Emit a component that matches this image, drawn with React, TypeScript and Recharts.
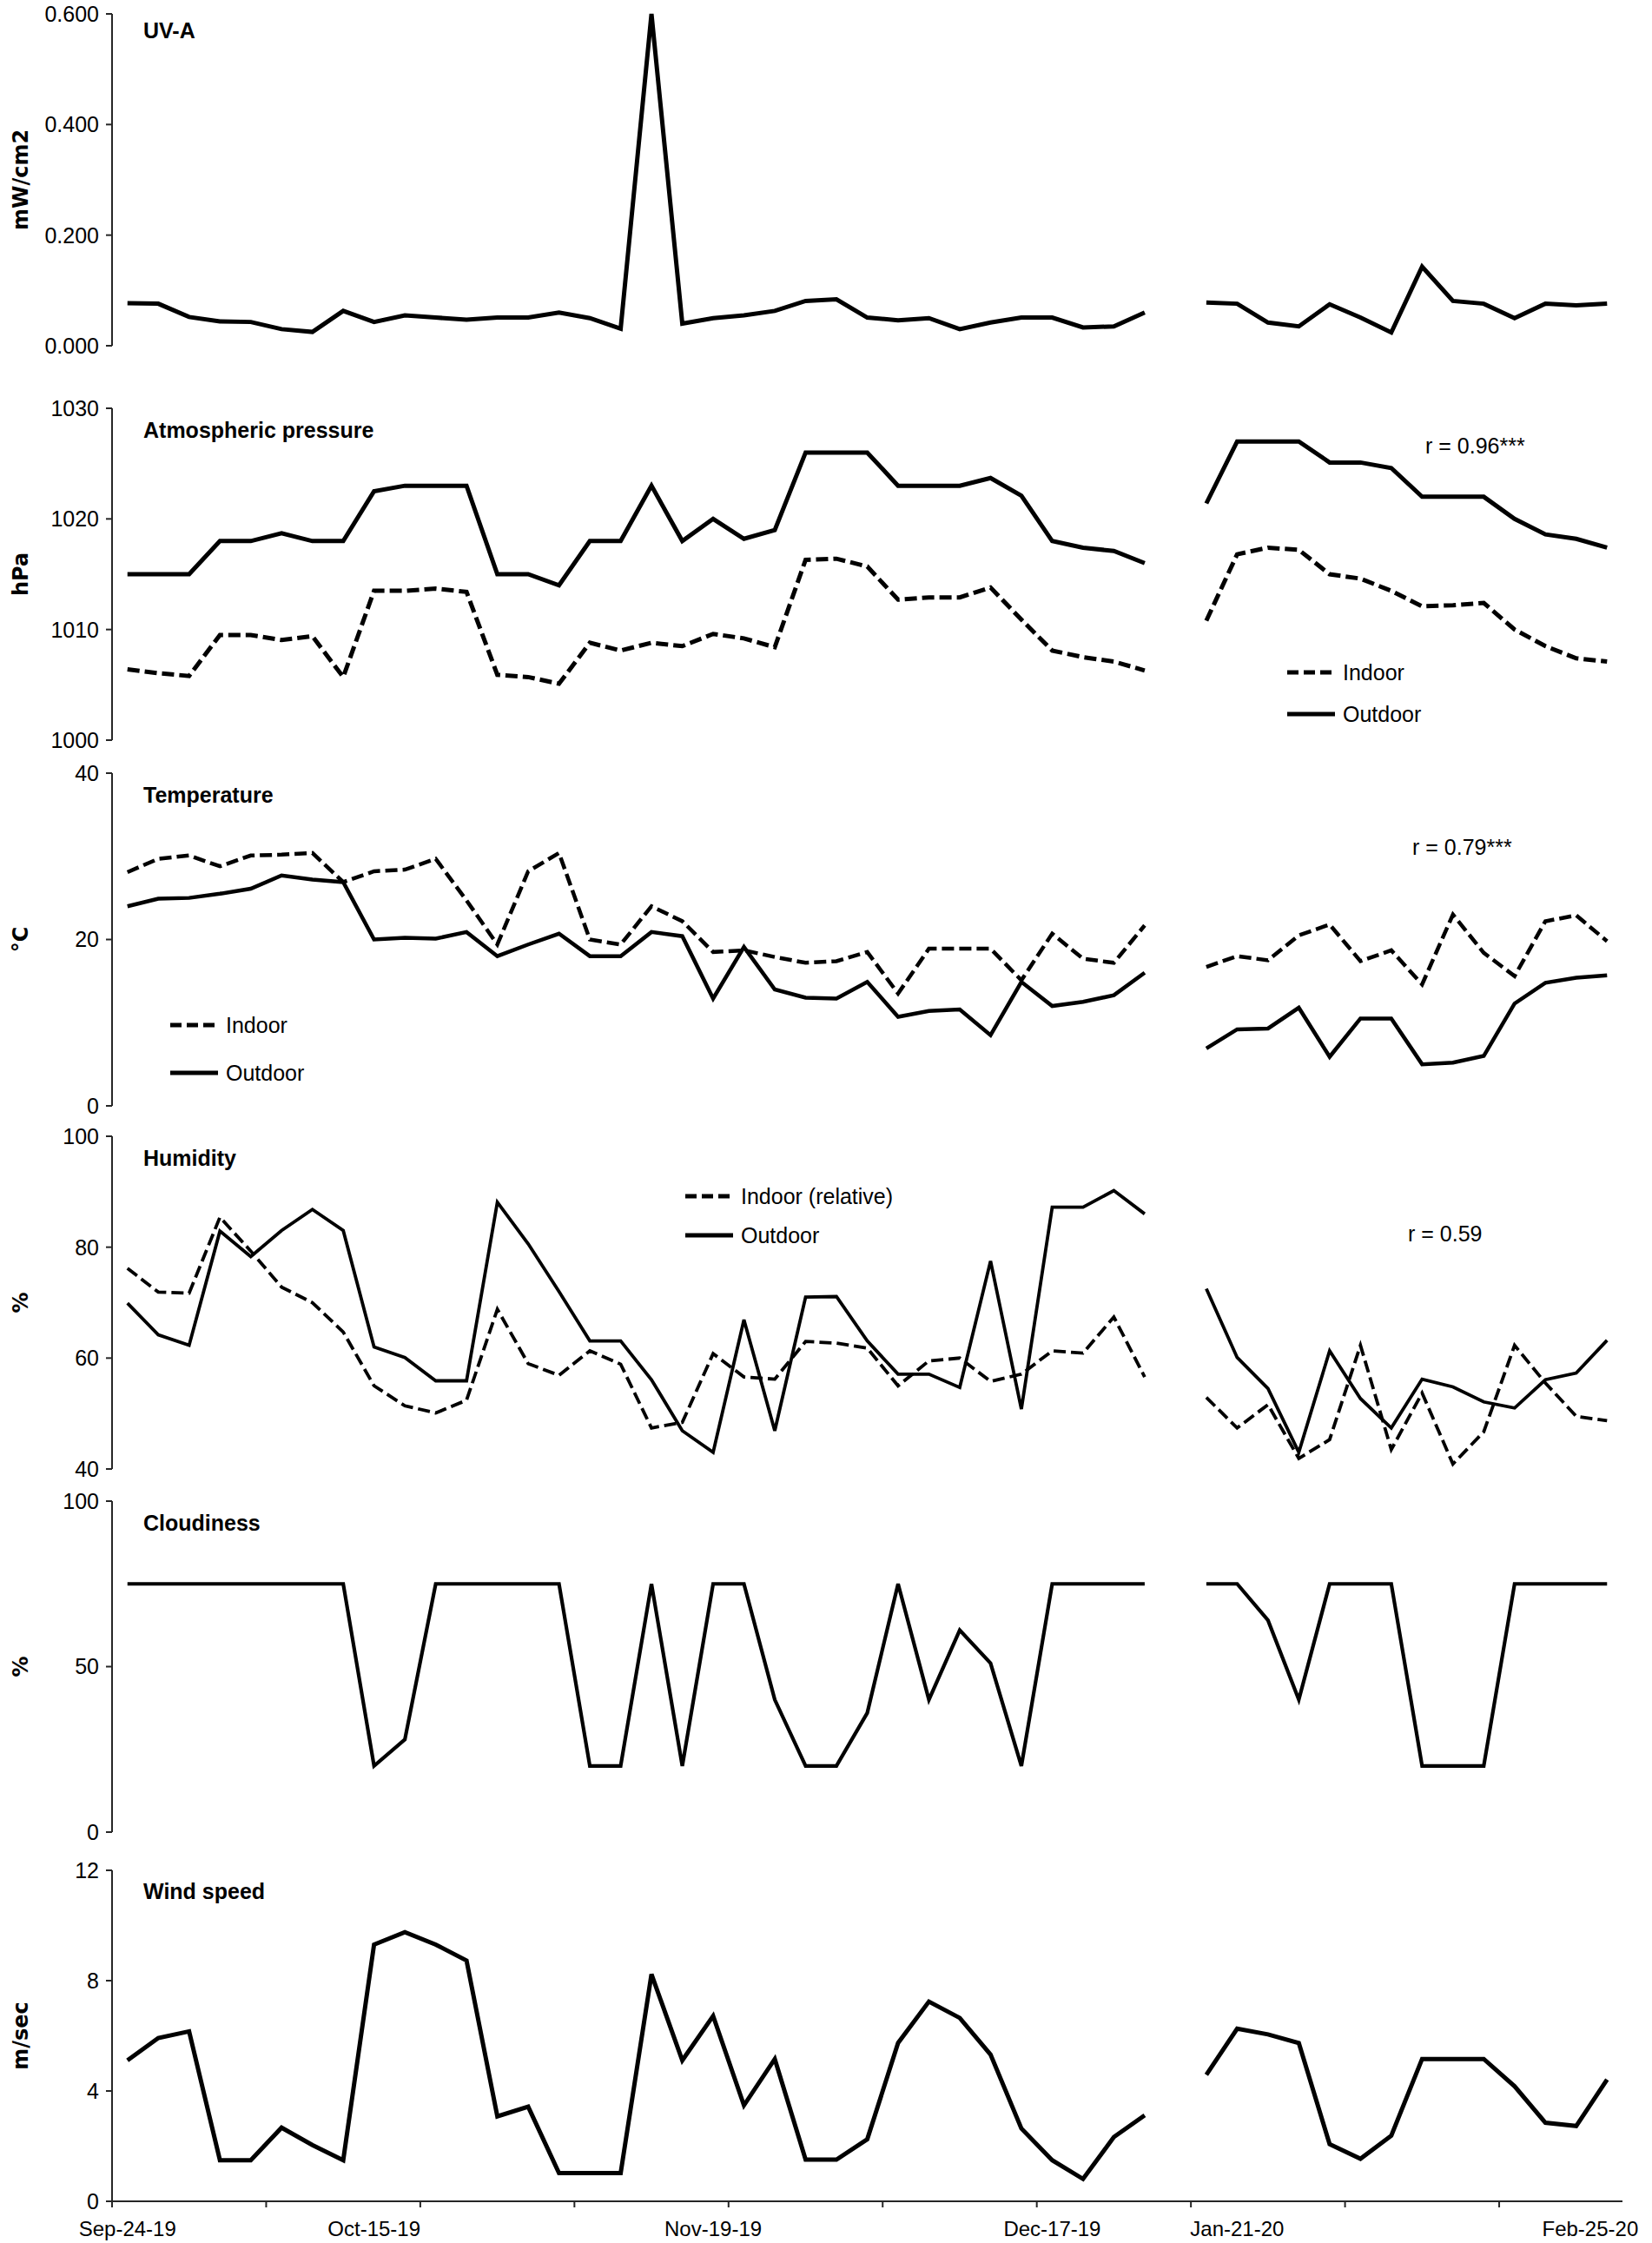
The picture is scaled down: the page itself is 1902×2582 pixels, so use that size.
import React from "react";
import { LineChart, Line, XAxis, YAxis } from "recharts";

const PAGE_W = 1902;
const PAGE_H = 2582;
const FONT = "'Liberation Sans', Arial, sans-serif";
const LABEL_FONT = "'DejaVu Sans', Verdana, sans-serif";
const AXIS = "#262626";
const INK = "#000";

// 49 category slots, slot 34 is empty (break between Dec and Jan series)
const slots = Array.from({ length: 49 }, (_, i) => i);

const tickMarkSlots = [0, 5, 10, 15, 20, 25, 30, 35, 40, 45];
const dateLabelSlots = [0, 8, 19, 30, 36, 48];
const dateLabels = ["Sep-24-19", "Oct-15-19", "Nov-19-19", "Dec-17-19", "Jan-21-20", "Feb-25-20"];

const uvA = [
  0.077, 0.076, 0.052, 0.044, 0.043, 0.03, 0.025, 0.063, 0.043, 0.055, 0.051, 0.047, 0.051, 0.051, 0.06, 0.05, 0.031,
  0.6, 0.04, 0.05, 0.055, 0.063, 0.081, 0.084, 0.051, 0.046, 0.05, 0.03, 0.042, 0.051, 0.051, 0.033, 0.035, 0.06, null,
  0.078, 0.076, 0.042, 0.035, 0.075, 0.051, 0.024, 0.143, 0.081, 0.076, 0.05, 0.076, 0.073, 0.076,
];

const pressureIndoor = [
  1006.4, 1006.05, 1005.8, 1009.5, 1009.5, 1009.05, 1009.4, 1005.7, 1013.5, 1013.5, 1013.7, 1013.4, 1005.9, 1005.7,
  1005.1, 1008.8, 1008.1, 1008.8, 1008.5, 1009.6, 1009.2, 1008.4, 1016.3, 1016.4, 1015.7, 1012.7, 1012.9, 1012.9,
  1013.8, 1010.9, 1008.1, 1007.5, 1007.1, 1006.3, null, 1010.8, 1016.8, 1017.4, 1017.2, 1015, 1014.6, 1013.5, 1012.1,
  1012.2, 1012.4, 1010, 1008.5, 1007.4, 1007.1,
];
const pressureOutdoor = [
  1015, 1015, 1015, 1018, 1018, 1018.7, 1018, 1018, 1022.5, 1023, 1023, 1023, 1015, 1015, 1014, 1018, 1018, 1023, 1018,
  1020, 1018.2, 1019, 1026, 1026, 1026, 1023, 1023, 1023, 1023.7, 1022.1, 1018, 1017.4, 1017.1, 1016, null, 1021.4,
  1027, 1027, 1027, 1025.1, 1025.1, 1024.6, 1022, 1022, 1022, 1020, 1018.6, 1018.2, 1017.4,
];

const tempIndoor = [
  28.1, 29.7, 30.1, 28.8, 30.1, 30.2, 30.4, 26.9, 28.2, 28.4, 29.7, 24.7, 19.4, 28.2, 30.4, 20.0, 19.4, 24.0, 22.2, 18.5,
  18.7, 17.9, 17.2, 17.4, 18.5, 13.5, 18.9, 18.9, 18.9, 15.1, 20.7, 17.7, 17.2, 21.7, null, 16.7, 18.0, 17.5, 20.5, 21.8,
  17.4, 18.7, 14.6, 23.0, 18.4, 15.6, 22.2, 22.9, 19.8,
];
const tempOutdoor = [
  24.0, 24.9, 25.0, 25.5, 26.1, 27.7, 27.2, 26.9, 20.0, 20.2, 20.1, 20.9, 18.0, 19.4, 20.7, 18.0, 18.0, 20.9, 20.4, 12.9,
  19.1, 14.0, 13.0, 12.9, 14.9, 10.7, 11.4, 11.6, 8.5, 14.9, 12.0, 12.5, 13.3, 16.0, null, 6.9, 9.2, 9.3, 11.8, 5.9, 10.5,
  10.5, 5.0, 5.2, 6.0, 12.3, 14.8, 15.4, 15.7,
];

const humidityIndoor = [
  76.2, 71.9, 71.7, 85.4, 79.3, 72.8, 70.0, 64.7, 55.0, 51.4, 50.1, 52.4, 68.8, 59.0, 56.9, 61.3, 58.9, 47.4, 48.4, 60.8,
  56.6, 56.2, 63.0, 62.7, 61.8, 55.0, 59.5, 60.0, 55.8, 57.1, 61.3, 60.9, 67.4, 56.6, null, 52.9, 47.4, 51.6, 41.9, 45.3,
  62.3, 43.5, 53.7, 40.9, 46.7, 62.3, 55.5, 49.5, 48.7,
];
const humidityOutdoor = [
  69.9, 64.2, 62.3, 82.9, 78.3, 83.0, 86.8, 83.0, 62.0, 60.1, 55.9, 55.9, 88.1, 80.6, 72.0, 63.1, 63.1, 56.1, 46.9, 43.0,
  66.9, 46.9, 71.0, 71.1, 63.1, 57.1, 57.1, 54.7, 77.5, 50.8, 87.2, 87.2, 90.2, 86.0, null, 72.5, 60.1, 54.5, 43.0, 61.3,
  52.7, 47.4, 56.2, 54.8, 52.1, 51.0, 56.1, 57.3, 63.2,
];

const cloudiness = [
  75, 75, 75, 75, 75, 75, 75, 75, 20, 28, 75, 75, 75, 75, 75, 20, 20, 75, 20, 75, 75, 40, 20, 20, 36, 75, 40, 61, 51, 20,
  75, 75, 75, 75, null, 75, 75, 64, 40, 75, 75, 75, 20, 20, 20, 75, 75, 75, 75,
];

const windSpeed = [
  5.11, 5.92, 6.16, 1.49, 1.49, 2.67, 2.04, 1.49, 9.31, 9.76, 9.31, 8.73, 3.08, 3.43, 1.02, 1.02, 1.02, 8.23, 5.11, 6.72,
  3.48, 5.16, 1.51, 1.51, 2.25, 5.74, 7.24, 6.65, 5.32, 2.64, 1.49, 0.81, 2.33, 3.12, null, 4.59, 6.26, 6.05, 5.74, 2.07,
  1.54, 2.38, 5.16, 5.16, 5.16, 4.17, 2.85, 2.73, 4.41,
];

const rows = slots.map((i) => ({
  x: i + 0.5,
  uv: uvA[i],
  pIn: pressureIndoor[i],
  pOut: pressureOutdoor[i],
  tIn: tempIndoor[i],
  tOut: tempOutdoor[i],
  hIn: humidityIndoor[i],
  hOut: humidityOutdoor[i],
  cloud: cloudiness[i],
  wind: windSpeed[i],
}));

const PLOT_LEFT = 129;
const PLOT_RIGHT = 1868;
const TOP_PAD = 16;
const X_AXIS_H = 45;

type Series = { key: string; width: number; dash?: string };

type PanelDef = {
  title: string;
  unit: string;
  top: number;
  bottom: number;
  domain: [number, number];
  ticks: number[];
  fmt?: (v: number) => string;
  series: Series[];
  withDates?: boolean;
};

const panels: PanelDef[] = [
  {
    title: "UV-A", unit: "mW/cm2", top: 16, bottom: 398, domain: [0, 0.6], ticks: [0, 0.2, 0.4, 0.6],
    fmt: (v) => v.toFixed(3), series: [{ key: "uv", width: 5 }],
  },
  {
    title: "Atmospheric pressure", unit: "hPa", top: 470, bottom: 852, domain: [1000, 1030],
    ticks: [1000, 1010, 1020, 1030],
    series: [{ key: "pIn", width: 5, dash: "14 6" }, { key: "pOut", width: 5 }],
  },
  {
    title: "Temperature", unit: "°C", top: 890, bottom: 1273, domain: [0, 40], ticks: [0, 20, 40],
    series: [{ key: "tIn", width: 4.5, dash: "14 6" }, { key: "tOut", width: 4.5 }],
  },
  {
    title: "Humidity", unit: "%", top: 1308, bottom: 1691, domain: [40, 100], ticks: [40, 60, 80, 100],
    series: [{ key: "hIn", width: 3.8, dash: "14 6" }, { key: "hOut", width: 3.8 }],
  },
  {
    title: "Cloudiness", unit: "%", top: 1728, bottom: 2109, domain: [0, 100], ticks: [0, 50, 100],
    series: [{ key: "cloud", width: 4.2 }],
  },
  {
    title: "Wind speed", unit: "m/sec", top: 2153, bottom: 2534, domain: [0, 12], ticks: [0, 4, 8, 12],
    series: [{ key: "wind", width: 5 }], withDates: true,
  },
];

const xTicks = [...tickMarkSlots, ...dateLabelSlots.map((s) => s + 0.5)].sort((a, b) => a - b);

function DateTick(props: any) {
  const { x, y, payload } = props;
  const v = payload.value;
  if (Number.isInteger(v)) {
    return <line x1={x} x2={x} y1={y} y2={y + 7} stroke={AXIS} strokeWidth={2} />;
  }
  const idx = dateLabelSlots.indexOf(v - 0.5);
  const last = idx === dateLabels.length - 1;
  return (
    <text
      x={last ? x + 36 : x}
      y={y + 31}
      textAnchor={last ? "end" : "middle"}
      dominantBaseline="central"
      fontFamily={FONT}
      fontSize={24}
      fill={INK}
    >
      {dateLabels[idx]}
    </text>
  );
}

function Panel({ p }: { p: PanelDef }) {
  const plotH = p.bottom - p.top;
  const height = TOP_PAD + plotH + (p.withDates ? X_AXIS_H : 16);
  return (
    <div style={{ position: "absolute", left: 0, top: p.top - TOP_PAD }}>
      <LineChart
        width={PAGE_W}
        height={height}
        data={rows}
        margin={{ top: TOP_PAD, right: PAGE_W - PLOT_RIGHT, bottom: p.withDates ? 0 : 16, left: 0 }}
      >
        {p.withDates ? (
          <XAxis
            dataKey="x"
            type="number"
            domain={[0, 49]}
            ticks={xTicks}
            interval={0}
            height={X_AXIS_H}
            tickSize={0}
            tickMargin={0}
            tickLine={false}
            axisLine={{ stroke: AXIS, strokeWidth: 2 }}
            tick={<DateTick />}
          />
        ) : (
          <XAxis dataKey="x" type="number" domain={[0, 49]} hide />
        )}
        <YAxis
          type="number"
          domain={p.domain}
          ticks={p.ticks}
          interval={0}
          width={PLOT_LEFT}
          tickSize={7}
          tickMargin={8}
          axisLine={{ stroke: AXIS, strokeWidth: 2 }}
          tickLine={{ stroke: AXIS, strokeWidth: 2 }}
          tick={{ fill: INK, fontSize: 25, fontFamily: FONT }}
          tickFormatter={p.fmt}
        />
        {p.series.map((s) => (
          <Line
            key={s.key}
            dataKey={s.key}
            type="linear"
            stroke={INK}
            strokeWidth={s.width}
            strokeDasharray={s.dash}
            dot={false}
            activeDot={false}
            connectNulls={false}
            isAnimationActive={false}
          />
        ))}
      </LineChart>
    </div>
  );
}

function LegendRow({ x, y, text, dashed }: { x: number; y: number; text: string; dashed?: boolean }) {
  return (
    <g>
      <line x1={x} x2={x + 55} y1={y} y2={y} stroke={INK} strokeWidth={5} strokeDasharray={dashed ? "13 6" : undefined} />
      <text x={x + 64} y={y} dominantBaseline="central" fontFamily={FONT} fontSize={25} fill={INK}>
        {text}
      </text>
    </g>
  );
}

const titleY = [35, 495, 915, 1333, 1753, 2177];

export default function App() {
  return (
    <div style={{ position: "absolute", left: 0, top: 0, width: PAGE_W, height: PAGE_H, background: "#fff" }}>
      {panels.map((p) => (
        <Panel key={p.title} p={p} />
      ))}
      <svg
        width={PAGE_W}
        height={PAGE_H}
        style={{ position: "absolute", left: 0, top: 0, pointerEvents: "none" }}
      >
        {panels.map((p, i) => (
          <g key={p.title}>
            <text x={165} y={titleY[i]} dominantBaseline="central" fontFamily={FONT} fontWeight="bold" fontSize={25} fill={INK}>
              {p.title}
            </text>
            <text
              transform={`translate(24 ${(p.top + p.bottom) / 2}) rotate(-90)`}
              textAnchor="middle"
              dominantBaseline="central"
              fontFamily={LABEL_FONT}
              fontWeight="bold"
              fontSize={24}
              fill={INK}
            >
              {p.unit}
            </text>
          </g>
        ))}

        <LegendRow x={1482} y={774} text="Indoor" dashed />
        <LegendRow x={1482} y={822} text="Outdoor" />
        <text x={1641} y={513} dominantBaseline="central" fontFamily={FONT} fontSize={25} fill={INK}>r = 0.96***</text>

        <LegendRow x={196} y={1180} text="Indoor" dashed />
        <LegendRow x={196} y={1235} text="Outdoor" />
        <text x={1626} y={975} dominantBaseline="central" fontFamily={FONT} fontSize={25} fill={INK}>r = 0.79***</text>

        <LegendRow x={789} y={1377} text="Indoor (relative)" dashed />
        <LegendRow x={789} y={1422} text="Outdoor" />
        <text x={1621} y={1420} dominantBaseline="central" fontFamily={FONT} fontSize={25} fill={INK}>r = 0.59</text>
      </svg>
    </div>
  );
}
